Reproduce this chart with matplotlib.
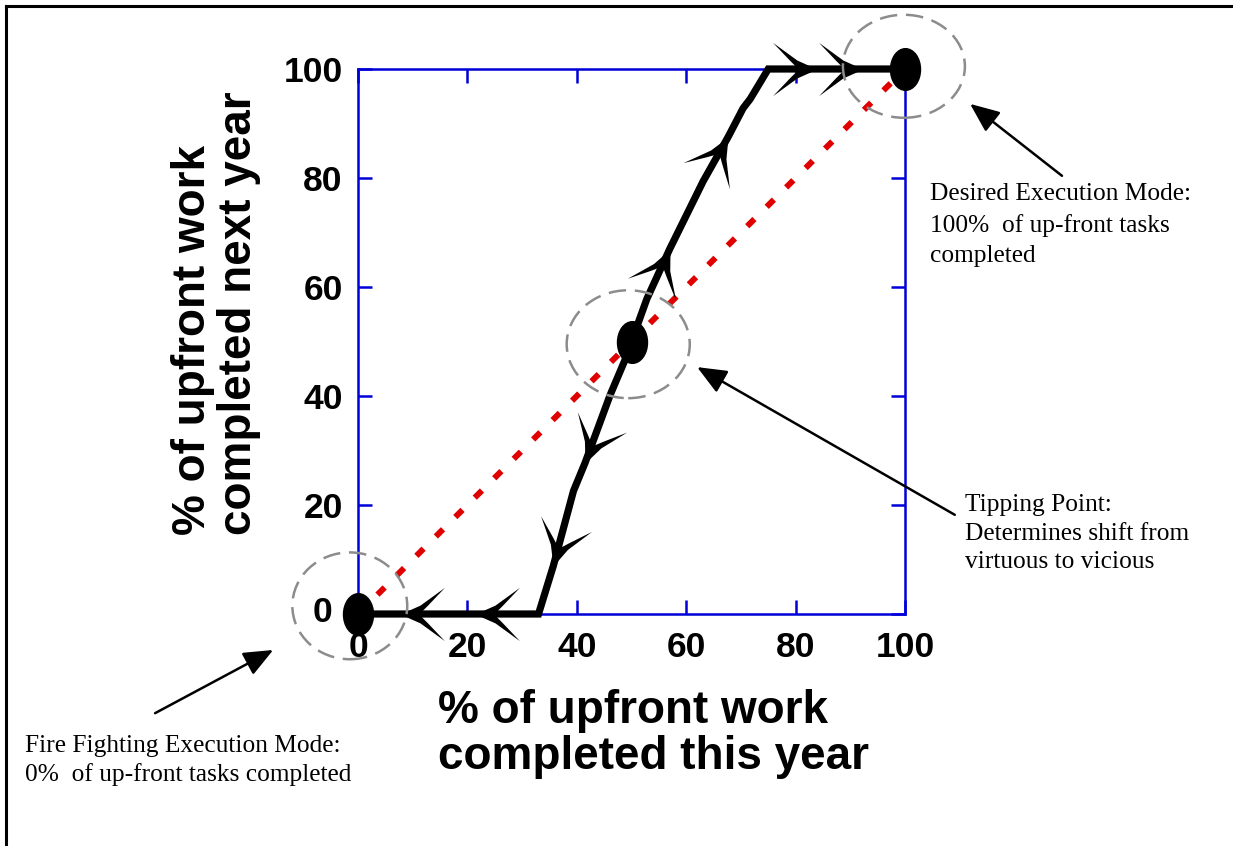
import numpy as np
import matplotlib
matplotlib.use("Agg")
import matplotlib.pyplot as plt
from matplotlib.path import Path
from matplotlib.markers import MarkerStyle
from matplotlib.transforms import Affine2D, ScaledTranslation
from matplotlib.patches import Ellipse
from matplotlib.lines import Line2D

# ---------------- data ----------------
curve_x = [0, 33, 35.7, 39.4, 41.5, 46.1, 49.1, 50, 52.8, 57.0, 63.1, 67.7, 70.4, 71.7, 75, 100]
curve_y = [0, 0, 8.8, 22.6, 27.7, 40.2, 47.3, 50, 57.8, 67.0, 79.4, 87.6, 92.8, 94.5, 100, 100]

diag_x = [0, 100]
diag_y = [0, 100]

equil_x = [0, 50, 100]
equil_y = [0, 50, 100]

arrow_x = [7.7, 21.4, 35.7, 41.5, 57.0, 67.7, 83.9, 92.3]
arrow_y = [0, 0, 8.8, 27.7, 67.0, 87.6, 100, 100]

xticks = [0, 20, 40, 60, 80, 100]
xtick_labels = ["0", "20", "40", "60", "80", "100"]
yticks = [0, 20, 40, 60, 80, 100]
ytick_labels = ["0", "20", "40", "60", "80", "100"]

xlabel = "% of upfront work\ncompleted this year"
ylabel = "% of upfront work\ncompleted next year"

note_desired = "Desired Execution Mode:\n100%  of up-front tasks\ncompleted"
note_tipping = "Tipping Point:\nDetermines shift from\nvirtuous to vicious"
note_fire = "Fire Fighting Execution Mode:\n0%  of up-front tasks completed"

# ---------------- figure ----------------
W, H = 1233, 846
fig = plt.figure(figsize=(W / 100, H / 100), dpi=100)
fig.patch.set_facecolor("white")

ax = fig.add_axes([358 / W, 1 - 614 / H, (905 - 358) / W, (614 - 69) / H])
ax.set_xlim(0, 100)
ax.set_ylim(0, 100)
ax.patch.set_alpha(0)

blue = "#0000d8"
for s in ax.spines.values():
    s.set_color(blue)
    s.set_linewidth(1.8)
    s.set_zorder(1)

sans = "Liberation Sans"
serif = "Liberation Serif"

ax.set_xticks(xticks)
ax.set_yticks(yticks)
ax.set_xticklabels(xtick_labels, fontsize=25.5, fontweight="bold", family=sans)
ax.set_yticklabels(ytick_labels, fontsize=25.5, fontweight="bold", family=sans)
ax.tick_params(direction="in", length=10, width=1.8, color=blue,
               top=True, right=True, labelcolor="black")
ax.tick_params(axis="x", pad=12)
ax.tick_params(axis="y", pad=11)

# nudge the y "0" label left/up as in the original
lab0 = ax.get_yticklabels()[0]
lab0.set_transform(lab0.get_transform() +
                   ScaledTranslation(-10 / 100, 5 / 100, fig.dpi_scale_trans))

# red dotted 45-degree line
ax.plot(diag_x, diag_y, color="#e00000", lw=4.3, linestyle=(0, (1.7, 2.9)),
        dash_capstyle="butt", zorder=3, clip_on=False)

# black trajectory
ax.plot(curve_x, curve_y, color="black", lw=5.2, solid_joinstyle="miter",
        solid_capstyle="butt", zorder=4, clip_on=False)

# chevron arrowheads along the trajectory
chev = Path([(0, 0), (-0.45, 0.2), (-1.0, 0.6), (-0.62, 0.2), (-0.42, 0),
             (-0.62, -0.2), (-1.0, -0.6), (-0.45, -0.2), (0, 0)])
cx = np.array(curve_x, float)
cy = np.array(curve_y, float)
pts = ax.transData.transform(np.column_stack([cx, cy]))
for ax_, ay_ in zip(arrow_x, arrow_y):
    p = ax.transData.transform((ax_, ay_))
    best, bi = 1e9, 0
    for i in range(len(pts) - 1):
        a, b = pts[i], pts[i + 1]
        d = b - a
        t = np.clip(np.dot(p - a, d) / max(np.dot(d, d), 1e-9), 0, 1)
        dist = np.linalg.norm(a + t * d - p)
        if dist < best:
            best, bi = dist, i
    d = pts[bi + 1] - pts[bi]
    if ax_ < 50:
        d = -d
    ang = np.degrees(np.arctan2(d[1], d[0]))
    m = MarkerStyle(chev, transform=Affine2D().rotate_deg(ang))
    ax.plot([ax_], [ay_], marker=m, markersize=64, color="black", mec="none",
            zorder=5, clip_on=False)

# equilibrium points (black ellipses)
em = MarkerStyle("o", transform=Affine2D().scale(0.72, 1.0))
ax.plot(equil_x, equil_y, linestyle="none", marker=em, markersize=30,
        color="black", zorder=6, clip_on=False)

# dashed grey circles
ell_w = [21, 22.5, 22.3]
ell_h = [19.6, 19.8, 18.9]
ell_dx = [-1.5, -0.6, -0.2]
ell_dy = [1.5, -0.5, 0.5]
for x0, y0, w, h, dx, dy in zip(equil_x, equil_y, ell_w, ell_h, ell_dx, ell_dy):
    e = Ellipse((x0 + dx, y0 + dy), w, h, fill=False, edgecolor="#8c8c8c",
                lw=1.8, linestyle=(0, (7, 3.5)), zorder=7, clip_on=False)
    ax.add_patch(e)

# annotations
ap = dict(arrowstyle="-|>,head_length=0.9,head_width=0.38", color="black",
          lw=1.8, mutation_scale=20, shrinkA=0, shrinkB=0)
ax.annotate("", xy=(111.9, 93.6), xytext=(128.7, 80.4), arrowprops=ap,
            annotation_clip=False)
ax.annotate("", xy=(62.0, 45.3), xytext=(109.1, 18.2), arrowprops=ap,
            annotation_clip=False)
ax.annotate("", xy=(-15.5, -6.6), xytext=(-37.1, -18.2), arrowprops=ap,
            annotation_clip=False)

tkw = dict(fontsize=18.3, family=serif, ha="left", va="top", clip_on=False)
ax.text(104.6, 79.0, note_desired, linespacing=1.46, **tkw)
ax.text(111.0, 22.0, note_tipping, linespacing=1.38, **tkw)
ax.text(-60.9, -22.2, note_fire, linespacing=1.36, **tkw)

# axis titles
fig.text(654 / W, 1 - 734 / H, xlabel, fontsize=33, fontweight="bold",
         family=sans, ha="center", va="center", multialignment="left",
         linespacing=1.08)
fig.text(216 / W, 1 - 313 / H, ylabel, fontsize=33, fontweight="bold",
         family=sans, ha="center", va="center", multialignment="left",
         rotation=90, linespacing=1.08)

# outer frame (top and left edges visible)
fig.add_artist(Line2D([6 / W, 6 / W], [0, 1 - 6 / H], transform=fig.transFigure,
                      color="black", lw=2.2))
fig.add_artist(Line2D([6 / W, 1], [1 - 6 / H, 1 - 6 / H], transform=fig.transFigure,
                      color="black", lw=2.2))

fig.savefig("out.png", dpi=100)
